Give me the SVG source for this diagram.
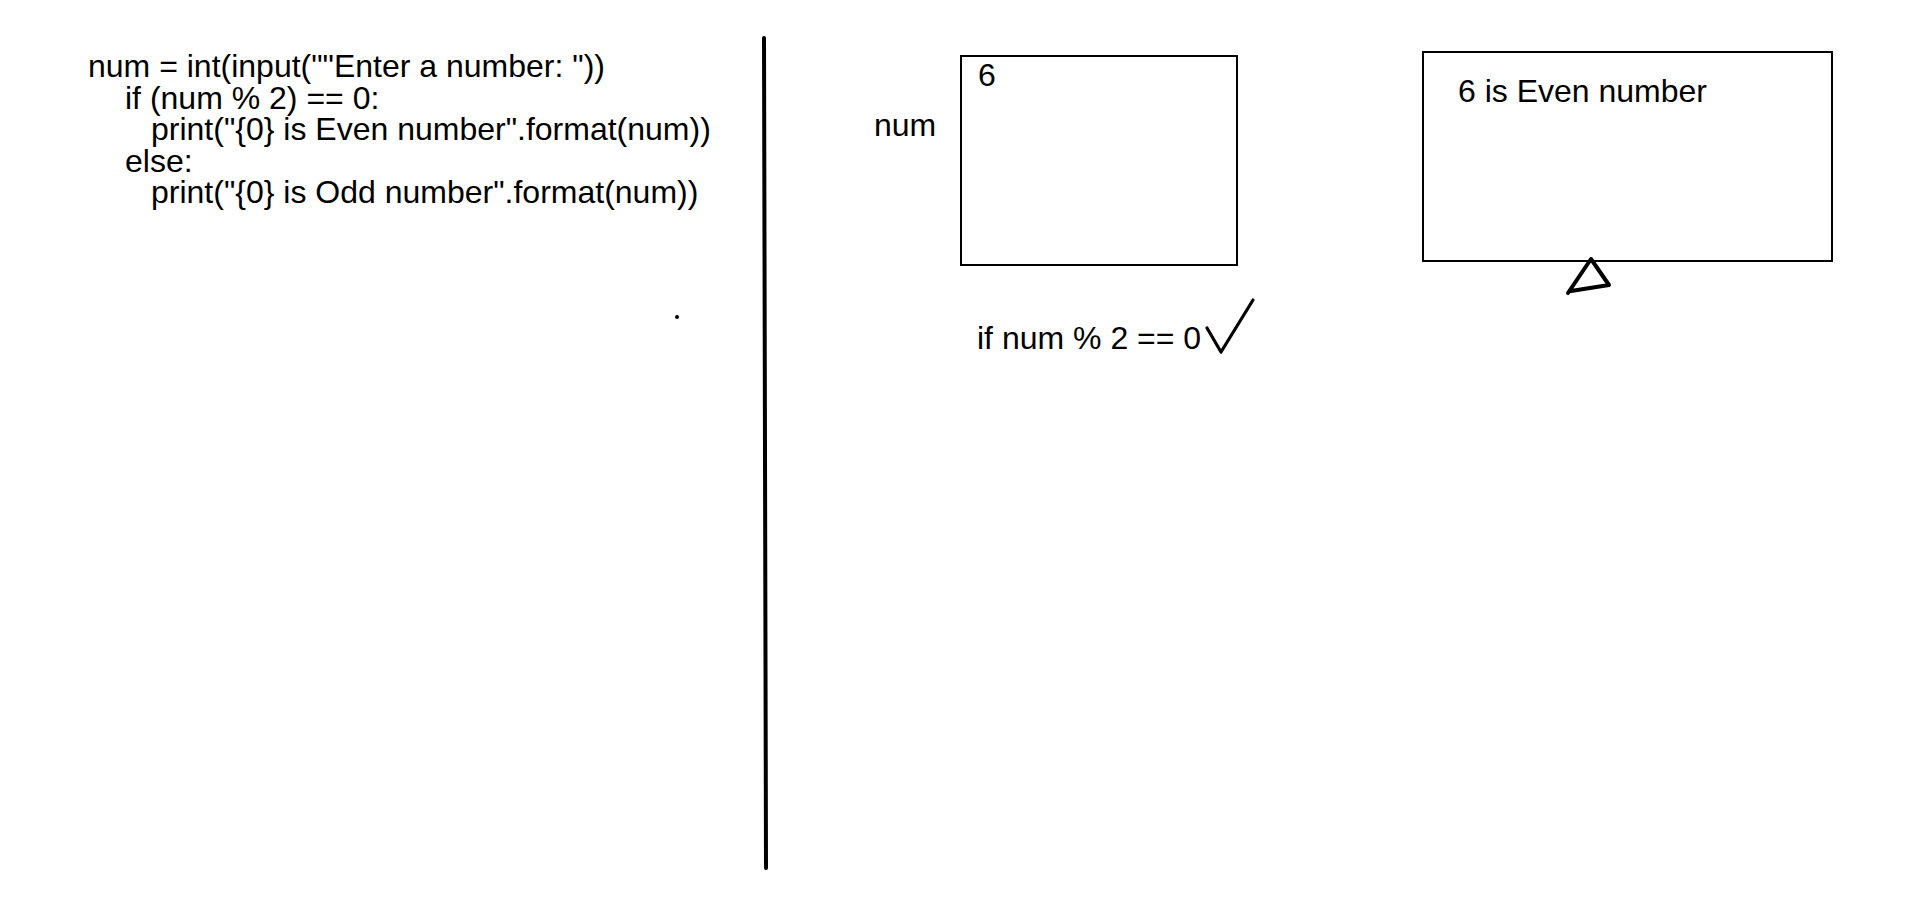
<svg xmlns="http://www.w3.org/2000/svg" width="1920" height="914" viewBox="0 0 1920 914">
<style>
text{font-family:"Liberation Sans",Arial,sans-serif;font-size:32px;fill:#000}
.box{fill:none;stroke:#000;stroke-width:2}
.ink{fill:none;stroke:#000;stroke-linecap:round;stroke-linejoin:round}
</style>
<rect width="1920" height="914" fill="#fff"/>
<g id="code">
<text x="88" y="77">num = int(input(""Enter a number: "))</text>
<text x="125" y="108.5">if (num % 2) == 0:</text>
<text x="151" y="140">print("{0} is Even number".format(num))</text>
<text x="125" y="171.5">else:</text>
<text x="151" y="203">print("{0} is Odd number".format(num))</text>
<circle cx="677" cy="317" r="2" fill="#000"/>
</g>
<g id="divider">
<line class="ink" x1="764" y1="38" x2="766" y2="868" stroke-width="4"/>
</g>
<g id="num-box">
<rect class="box" x="961" y="56" width="276" height="209"/>
<text x="978" y="86">6</text>
<text x="874" y="136">num</text>
</g>
<g id="output-box">
<rect class="box" x="1423" y="52" width="409" height="209"/>
<text x="1458" y="102">6 is Even number</text>
</g>
<g id="condition">
<text x="977" y="349">if num % 2 == 0</text>
<polyline class="ink" stroke-width="3.2" points="1207,328 1221,352 1253,300"/>
</g>
<g id="connectors">
<path class="ink" stroke-width="4" d="M1568,293 L1591,259 L1609,285 L1571,291"/>
</g>
</svg>
